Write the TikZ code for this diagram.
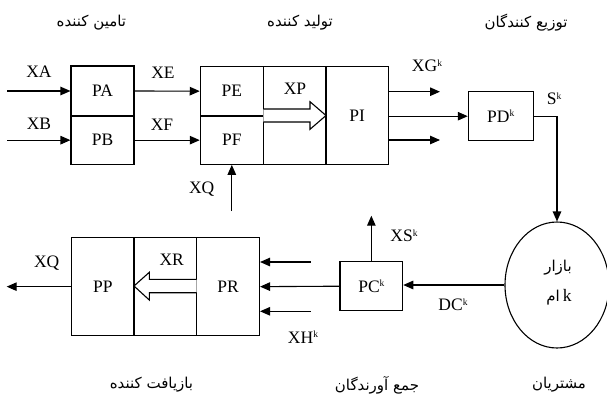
\documentclass[tikz,border=0pt]{standalone}
\usepackage{fontspec}
\setmainfont{Liberation Serif}
\newfontfamily\fa[Script=Arabic]{DejaVu Sans}
\TeXXeTstate=1
\usetikzlibrary{arrows.meta,shapes.geometric}
\newcommand\supk{\raisebox{5.5pt}{\fontsize{9.5}{9.5}\selectfont k}}
\begin{document}
\setbox0\hbox{\fa\fontsize{15}{17}\selectfont\beginR تامین کننده\endR}%
\begin{tikzpicture}[x=1pt,y=-1pt, line width=1.1pt,
 box/.style={draw, rectangle, inner sep=0pt, minimum width=63pt, font=\fontsize{17.5}{20}\selectfont},
 lbl/.style={inner sep=0pt, font=\fontsize{17.5}{20}\selectfont},
 fal/.style={inner sep=0pt, font=\fa\fontsize{15}{17}\selectfont},
 arr/.style={-{Triangle[length=10pt,width=8.5pt]}},
 hollow/.style={draw, fill=white, line join=miter}]
\useasboundingbox (0,0) rectangle (607,397);
% boxes
\node[box, minimum height=50pt] (PA) at (102.5,91) {PA};
\node[box, minimum height=48.3pt] (PB) at (102.5,140.15) {PB};
\node[box, minimum height=49.7pt] (PE) at (231.8,91.15) {PE};
\node[box, minimum height=48.3pt] (PF) at (231.8,140.15) {PF};
\node[box, minimum width=62.7pt, minimum height=98pt] (XPB) at (294.65,115.3) {};
\node[box, minimum width=62.5pt, minimum height=98pt] (PI) at (357.25,115.3) {PI};
\node[box, minimum width=65pt, minimum height=49pt] (PD) at (500.8,116.2) {PD\supk};
\node[draw, ellipse, minimum width=104pt, minimum height=126pt, inner sep=0pt] (M) at (557,285) {};
\node[box, minimum width=62.7pt, minimum height=49pt] (PC) at (371.35,286.2) {PC\supk};
\node[box, minimum width=62.8pt, minimum height=98.3pt] (PR) at (228.1,286.65) {PR};
\node[box, minimum width=62.7pt, minimum height=98.3pt] (XRB) at (165.35,286.65) {};
\node[box, minimum width=62.3pt, minimum height=98.3pt] (PP) at (102.85,286.65) {PP};
% hollow arrows
\draw[hollow] (263.3,109) -- (310,109) -- (310,101.7) -- (326,115.5) -- (310,129.3) -- (310,122) -- (263.3,122);
\draw[hollow] (196.7,279.3) -- (149.3,279.3) -- (149.3,272.3) -- (134,286) -- (149.3,300) -- (149.3,292.7) -- (196.7,292.7);
% connectors
\coordinate (xa) at (7,91);
\coordinate (xb) at (7,140.15);
\draw[arr] (xa) -- (PA.west);
\draw[arr] (xb) -- (PB.west);
\draw[arr] (PA.east) -- (PE.west);
\draw[arr] (PB.east) -- (PF.west);
\coordinate (xq) at (231.8,211);
\draw[arr] (xq) -- (PF.south);
\coordinate (g1) at (440,91.7);
\coordinate (g3) at (440,140);
\draw[arr] (g1 -| PI.east) -- (g1);
\draw[arr] (PI.east |- PD.west) -- (PD.west);
\draw[arr] (g3 -| PI.east) -- (g3);
\draw[arr] (PD.east) -| (M.north);
\draw[arr] (M.west) -- (M.west -| PC.east);
\coordinate (xs) at (371.35,215.7);
\draw[arr] (PC.north) -- (xs);
\draw[arr] (PC.west) -- (PR.east);
\coordinate (h1) at (310.7,262);
\coordinate (h3) at (310.7,311.3);
\draw[arr] (h1) -- (h1 -| PR.east);
\draw[arr] (h3) -- (h3 -| PR.east);
\coordinate (xqo) at (6.7,286.65);
\draw[arr] (PP.west) -- (xqo);
% labels
\node[lbl] (lXA) at (39,72) {XA};
\node[lbl] (lXB) at (39,124) {XB};
\node[lbl] (lXE) at (163,73) {XE};
\node[lbl] (lXF) at (162,125) {XF};
\node[lbl] (lXP) at (295,89) {XP};
\node[lbl] (lXG) at (427,66) {XG\supk};
\node[lbl] (lS) at (554,99) {S\supk};
\node[lbl] (lXQ) at (201.7,189.3) {XQ};
\node[lbl] (lXS) at (404,236) {XS\supk};
\node[lbl] (lXH) at (303,337) {XH\supk};
\node[lbl] (lDC) at (453,305) {DC\supk};
\node[lbl] (lXQo) at (46.7,263.3) {XQ};
\node[lbl] (lXR) at (171.7,260) {XR};
\node[fal] (t1) at (91.4,23) {\beginR تامین کننده\endR};
\node[fal] (t2) at (300,23) {\beginR تولید کننده\endR};
\node[fal] (t3) at (526,23) {\beginR توزیع کنندگان\endR};
\node[fal] (b1) at (151.5,385) {\beginR بازیافت کننده\endR};
\node[fal] (b2) at (377,385) {\beginR جمع آورندگان\endR};
\node[fal] (b3) at (559,385) {مشتریان};
\node[fal] (bazar) at (558,268) {بازار};
\node[lbl] (kam) at (559,297) {{\fa\fontsize{15}{17}\selectfont ام}\,k};
\end{tikzpicture}
\end{document}
